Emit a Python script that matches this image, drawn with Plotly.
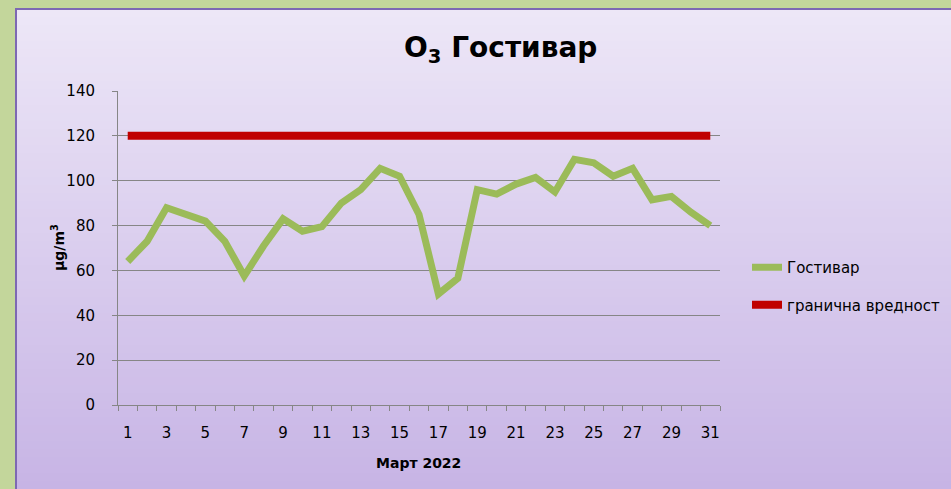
import plotly.graph_objects as go

# Daily O3 concentrations for Gostivar, March 2022 (µg/m³)
days = list(range(1, 32))
gostivar = [64, 73, 88, 85, 82, 73, 57.5, 71, 83, 77.5, 79.5, 90, 96, 105.5, 102,
            85, 49.5, 56.5, 96, 94, 98.5, 101.5, 95, 109.5, 108, 102, 105.5, 91.5,
            93, 86, 80]
limit_values = [120] * 31
x_tick_labels = [str(d) for d in range(1, 32, 2)]
y_ticks = [0, 20, 40, 60, 80, 100, 120, 140]

W, H = 951, 489
L, R, T, B = 118, 720, 91, 405  # plot area in pixels


def px_x(px):
    return (px - L) / (R - L)


def px_y(py):
    return (B - py) / (B - T)


fig = go.Figure()

fig.add_trace(go.Scatter(
    x=days, y=gostivar, mode="lines", name="Гостивар",
    line=dict(color="#9bbb59", width=7), legendgroup="a",
))
fig.add_trace(go.Scatter(
    x=days, y=limit_values, mode="lines", name="гранична вредност",
    line=dict(color="#c00000", width=8), legendgroup="b",
))

# Panel background: vertical lavender gradient built from thin bands
shapes = []
top_col = (237, 231, 247)
bot_col = (199, 180, 229)
y0, y1 = 9, H
n = 60
for i in range(n):
    a = y0 + (y1 - y0) * i / n
    b = y0 + (y1 - y0) * (i + 1) / n
    t = (i + 0.5) / n
    c = tuple(round(top_col[k] + (bot_col[k] - top_col[k]) * t) for k in range(3))
    shapes.append(dict(
        type="rect", xref="paper", yref="paper", layer="below",
        x0=px_x(16), x1=px_x(W + 2), y0=px_y(b + 0.5), y1=px_y(a),
        fillcolor="rgb(%d,%d,%d)" % c, line=dict(width=0),
    ))
# Panel frame (left and top edges)
frame = "#7d68b3"
shapes.append(dict(type="line", xref="paper", yref="paper", layer="below",
                   x0=px_x(16), x1=px_x(16), y0=px_y(9), y1=px_y(H + 2),
                   line=dict(color=frame, width=2)))
shapes.append(dict(type="line", xref="paper", yref="paper", layer="below",
                   x0=px_x(15), x1=px_x(W + 2), y0=px_y(9), y1=px_y(9),
                   line=dict(color=frame, width=2)))

font_family = "DejaVu Sans, sans-serif"

fig.update_layout(
    width=W, height=H,
    margin=dict(l=L, r=W - R, t=T, b=H - B, pad=0, autoexpand=False),
    paper_bgcolor="#c3d69b",
    plot_bgcolor="rgba(0,0,0,0)",
    shapes=shapes,
    font=dict(family=font_family, color="#000000", size=15),
    showlegend=True,
    legend=dict(
        x=px_x(747), xanchor="left", y=px_y(286), yanchor="middle",
        bgcolor="rgba(0,0,0,0)", font=dict(size=15),
        traceorder="grouped", tracegroupgap=15,
    ),
    annotations=[
        dict(text="<b>O<sub>3</sub> Гостивар</b>", xref="paper", yref="paper",
             x=px_x(500), y=px_y(50), xanchor="center", yanchor="middle",
             showarrow=False, font=dict(size=28)),
        dict(text="<b>Март 2022</b>", xref="paper", yref="paper",
             x=px_x(418), y=px_y(463), xanchor="center", yanchor="middle",
             showarrow=False, font=dict(size=14)),
        dict(text="<b>μg/m<sup>3</sup></b>", xref="paper", yref="paper",
             x=px_x(58), y=px_y(248), xanchor="center", yanchor="middle",
             textangle=-90, showarrow=False, font=dict(size=14)),
    ],
)

fig.update_xaxes(
    range=[0.5, 31.5],
    tickmode="array", tickvals=list(range(1, 32, 2)), ticktext=x_tick_labels,
    ticks="", showgrid=False, zeroline=False,
    showline=True, linecolor="#868686", linewidth=1,
    ticklabelstandoff=14,
    minor=dict(tickmode="linear", tick0=0.5, dtick=1, ticks="outside",
               ticklen=5, tickcolor="#868686", showgrid=False),
)
fig.update_yaxes(
    range=[0, 140],
    tickmode="array", tickvals=y_ticks,
    ticks="outside", ticklen=5, tickcolor="#868686",
    showgrid=True, gridcolor="#868686", gridwidth=1,
    zeroline=False, showline=True, linecolor="#868686", linewidth=1,
    ticklabelstandoff=14,
)

fig.write_html("out.html")
